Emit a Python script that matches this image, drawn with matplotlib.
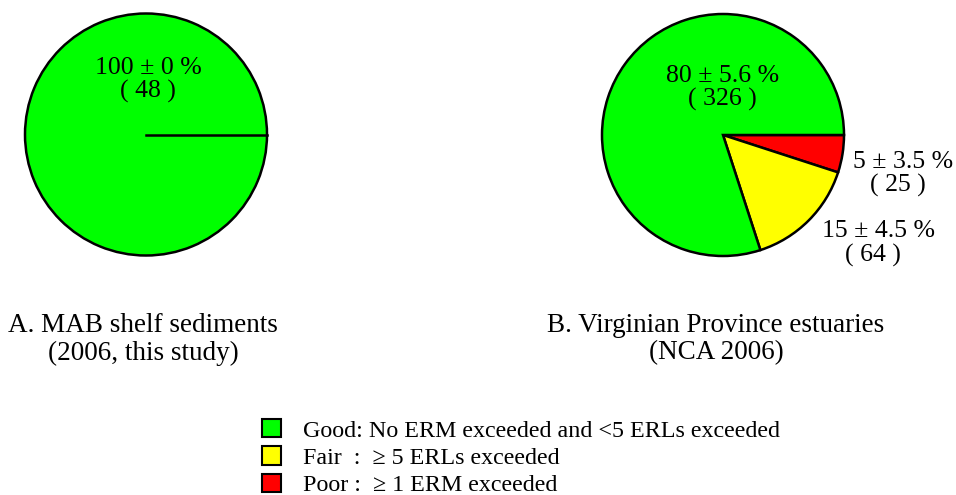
import matplotlib
matplotlib.use("Agg")
import matplotlib.pyplot as plt
from matplotlib.patches import Patch

plt.rcParams['font.family'] = ['Liberation Serif', 'DejaVu Serif']

categories = ["Good: No ERM exceeded and <5 ERLs exceeded",
              "Fair  :  \u2265 5 ERLs exceeded",
              "Poor :  \u2265 1 ERM exceeded"]
colors = ["#00ff00", "#ffff00", "#ff0000"]

# Panel A
a_pct = [100]
a_labels = ["100 \u00b1 0 %", "( 48 )"]
# Panel B (drawn clockwise from east: Poor, Fair, Good)
b_pct = [5, 15, 80]
b_colors = ["#ff0000", "#ffff00", "#00ff00"]
b_labels = [("5 \u00b1 3.5 %", "( 25 )"), ("15 \u00b1 4.5 %", "( 64 )"), ("80 \u00b1 5.6 %", "( 326 )")]
titles = [("A. MAB shelf sediments", "(2006, this study)"),
          ("B. Virginian Province estuaries", "(NCA 2006)")]

W, H = 956, 495
fig = plt.figure(figsize=(W/100, H/100), dpi=100)
ax = fig.add_axes([0, 0, 1, 1])
ax.set_xlim(0, W)
ax.set_ylim(0, H)
ax.set_aspect('equal')
ax.axis('off')

fs = 18.5
wp = dict(edgecolor='black', linewidth=1.8)

# Pie A
cA = (146, H - 134.5)
rA = 121
ax.pie(a_pct, colors=["#00ff00"], center=cA, radius=rA, startangle=0,
       counterclock=False, wedgeprops=wp, frame=True)
ax.plot([cA[0], cA[0] + rA], [cA[1], cA[1]], color='black', lw=1.8)

# Pie B
cB = (723, H - 135)
rB = 121
ax.pie(b_pct, colors=b_colors, center=cB, radius=rB, startangle=0,
       counterclock=False, wedgeprops=wp, frame=True)
ax.set_xlim(0, W)
ax.set_ylim(0, H)
ax.axis('off')

# Labels A
ax.text(148, H - 68, a_labels[0], ha='center', va='center', fontsize=fs)
ax.text(148, H - 91, a_labels[1], ha='center', va='center', fontsize=fs)
# Labels B
ax.text(723, H - 76, b_labels[2][0], ha='center', va='center', fontsize=fs)
ax.text(722, H - 99, b_labels[2][1], ha='center', va='center', fontsize=fs)
ax.text(853, H - 162, b_labels[0][0], ha='left', va='center', fontsize=fs)
ax.text(898, H - 185, b_labels[0][1], ha='center', va='center', fontsize=fs)
ax.text(822, H - 231, b_labels[1][0], ha='left', va='center', fontsize=fs)
ax.text(873, H - 255, b_labels[1][1], ha='center', va='center', fontsize=fs)

# Titles
for (t1, t2), x in zip(titles, [143, 716]):
    ax.text(x, H - 326, t1, ha='center', va='center', fontsize=19.5)
    ax.text(x, H - 353, t2, ha='center', va='center', fontsize=19.5)

# Legend
handles = [Patch(facecolor=c, edgecolor='black', linewidth=1.5) for c in colors]
leg = ax.legend(handles, categories, loc='upper left',
                bbox_to_anchor=(262 / W, 1 - 419 / H), frameon=False,
                fontsize=17.3, handlelength=0.8, handleheight=0.8,
                handletextpad=0.9, labelspacing=0.2, borderpad=0, borderaxespad=0)

fig.savefig("out.png", dpi=100)
